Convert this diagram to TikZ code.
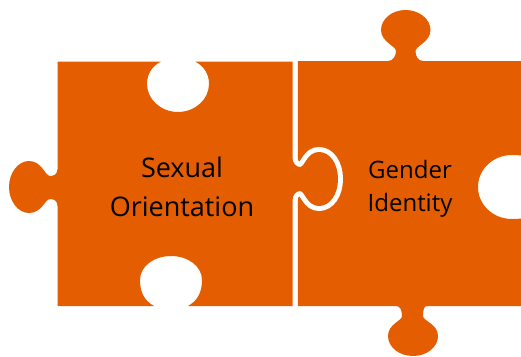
\documentclass[tikz,border=0pt]{standalone}
\usepackage{fontspec}
\setmainfont{Open Sans}
\definecolor{puzzleorange}{RGB}{228,93,0}
\pgfdeclarelayer{edgelayer}
\pgfdeclarelayer{nodelayer}
\pgfsetlayers{edgelayer,nodelayer,main}
\tikzstyle{piece}=[fill=puzzleorange,draw=none]
\tikzstyle{cutpiece}=[piece,preaction={draw=white,line width=10pt}]
\tikzstyle{bigtext}=[align=center,text=black,inner sep=0pt,font=\fontsize{27}{39}\selectfont]
\tikzstyle{smalltext}=[align=center,text=black,inner sep=0pt,font=\fontsize{24}{33.5}\selectfont]

\begin{document}
\begin{tikzpicture}[x=1pt,y=-1pt]
	\useasboundingbox (0,0) rectangle (521,356);
	\begin{pgfonlayer}{nodelayer}
		\node [style=bigtext, anchor=base] (sexual) at (182,216) {Sexual\\Orientation};
		\node [style=smalltext, anchor=base] (gender) at (410,211.7) {Gender\\Identity};
	\end{pgfonlayer}
	\begin{pgfonlayer}{edgelayer}
		% right piece: tabs top and bottom, hole on the right
		\path [style=piece] (297.5,61) -- (388,61)
			.. controls (393,61) and (396,56) .. (396,51)
			.. controls (396,46) and (381,42) .. (381,30)
			.. controls (381,19) and (392,10) .. (405.5,10)
			.. controls (419,10) and (430.5,19) .. (430.5,30)
			.. controls (430.5,42) and (415.5,46) .. (415.5,51)
			.. controls (415.5,56) and (418,61) .. (423,61)
			-- (540,61) -- (540,170)
			.. controls (538,160) and (530,155) .. (512,155)
			.. controls (493,155) and (478,169.3) .. (478,187)
			.. controls (478,204.7) and (493,219) .. (512,219)
			.. controls (530,219) and (538,214) .. (540,204)
			-- (540,306) -- (427,306)
			.. controls (424,306) and (423,310) .. (423,316)
			.. controls (423,321) and (438,324) .. (438,336)
			.. controls (438,347) and (427,356) .. (413,356)
			.. controls (399,356) and (388,347) .. (388,336)
			.. controls (388,324) and (402,321) .. (402,316)
			.. controls (402,310) and (400,306) .. (396,306)
			-- (297.5,306) -- cycle;
		% left piece: white rim gives the gap
		\path [style=cutpiece] (57.5,61.5) -- (161,61.5)
			.. controls (152,66) and (147,74) .. (147,84)
			.. controls (147,99.4) and (161,112) .. (178,112)
			.. controls (195,112) and (209,99.4) .. (209,84)
			.. controls (209,74) and (204,66) .. (195,61.5)
			-- (292.5,61.5) -- (292.5,158)
			.. controls (292.5,163) and (296,167) .. (300,167)
			.. controls (305,167) and (307,152) .. (319,152)
			.. controls (330,152) and (338,164) .. (338,179)
			.. controls (338,194) and (330,206) .. (319,206)
			.. controls (307,206) and (305,191) .. (300,191)
			.. controls (296,191) and (292.5,195) .. (292.5,200)
			-- (292.5,306) -- (188,306)
			.. controls (197,301) and (202,293) .. (202,280)
			.. controls (202,266.2) and (188,256) .. (171,256)
			.. controls (154,256) and (140,266.2) .. (140,280)
			.. controls (140,293) and (145,301) .. (154,306)
			-- (57.5,306) -- (57.5,206)
			.. controls (57.5,201) and (54,199) .. (50,199)
			.. controls (45,199) and (42,213) .. (29,213)
			.. controls (18,213) and (9,201) .. (9,187)
			.. controls (9,173) and (18,161) .. (29,161)
			.. controls (42,161) and (45,176) .. (50,176)
			.. controls (54,176) and (57.5,174) .. (57.5,169)
			-- cycle;
	\end{pgfonlayer}
\end{tikzpicture}
\end{document}
